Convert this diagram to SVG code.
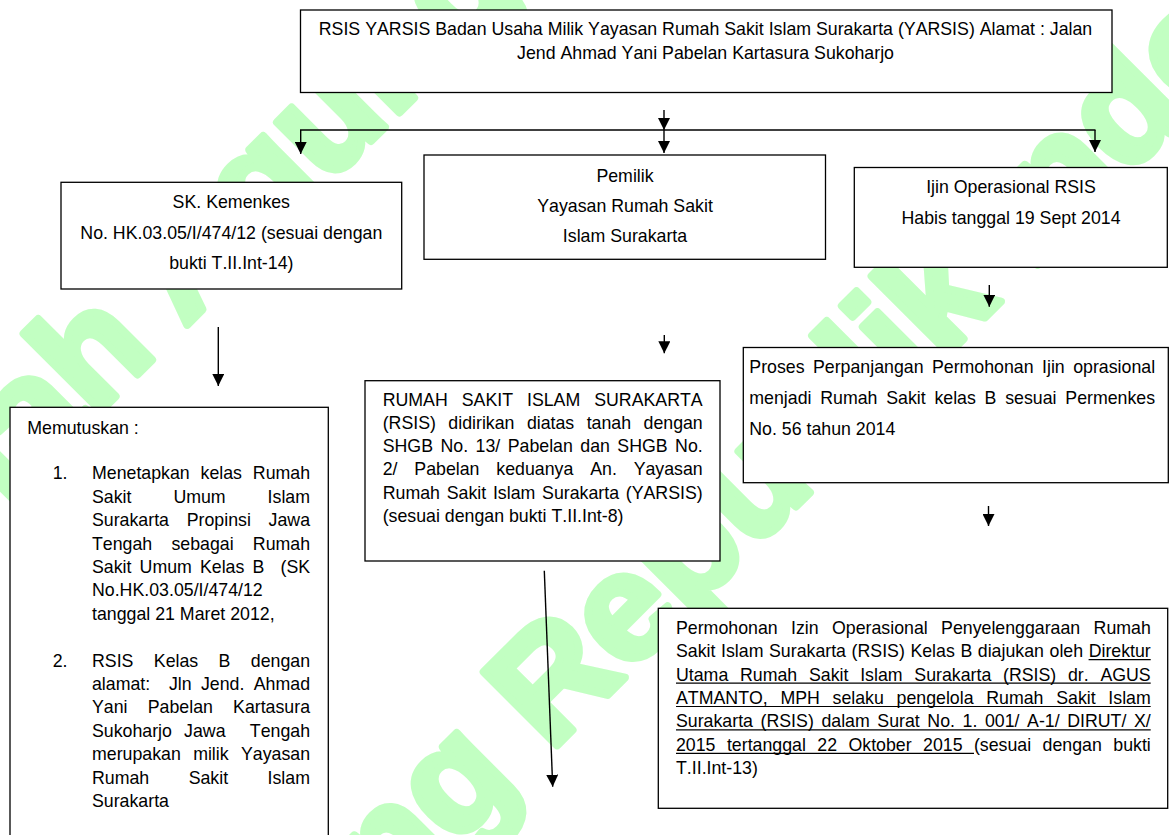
<svg xmlns="http://www.w3.org/2000/svg" width="1169" height="835" viewBox="0 0 1169 835">
<style>
.wm{font-family:"Liberation Sans",Arial,sans-serif;font-weight:bold;font-size:151px;fill:#c2ffc2;stroke:#c2ffc2;stroke-width:8;stroke-linejoin:round}
.box{fill:#fff;stroke:#000;stroke-width:1.3}
.t{font-family:"Liberation Sans",Arial,sans-serif;font-size:17.75px;fill:#000;font-kerning:none}
.c{text-anchor:middle}
.pre{white-space:pre}
.ln{stroke:#000;stroke-width:1.4;fill:none}
.ul{stroke:#000;stroke-width:1.2}
</style>
<defs>
<marker id="ah" viewBox="0 0 12 12" refX="12" refY="6" markerWidth="12" markerHeight="12" markerUnits="userSpaceOnUse" orient="auto">
<path d="M0,0 L12,6 L0,12 z" fill="#000"/>
</marker>
</defs>
<rect width="1169" height="835" fill="#fff"/>
<g id="watermark" transform="rotate(-45)">
<text class="wm" x="-918" y="362">Mahkamah Agung Republik Indonesia</text>
<text class="wm" x="-1480" y="921">Mahkamah Agung Republik Indonesia</text>
</g>
<g id="connectors">
<line class="ln" x1="664" y1="110" x2="664" y2="130" marker-end="url(#ah)"/>
<line class="ln" x1="300" y1="130" x2="1095.5" y2="130"/>
<line class="ln" x1="300.7" y1="130" x2="300.7" y2="154" marker-end="url(#ah)"/>
<line class="ln" x1="664" y1="130" x2="664" y2="153" marker-end="url(#ah)"/>
<line class="ln" x1="1095" y1="130" x2="1095" y2="152" marker-end="url(#ah)"/>
<line class="ln" x1="218.3" y1="327" x2="218.3" y2="386" marker-end="url(#ah)"/>
<line class="ln" x1="664.3" y1="335" x2="664.3" y2="353.3" marker-end="url(#ah)"/>
<line class="ln" x1="989.3" y1="285" x2="989.3" y2="306.7" marker-end="url(#ah)"/>
<line class="ln" x1="988.5" y1="506" x2="988.5" y2="526" marker-end="url(#ah)"/>
<line class="ln" x1="544.3" y1="570.7" x2="552.7" y2="786.7" marker-end="url(#ah)"/>
</g>
<g id="node-top">
<rect class="box" x="300.5" y="10" width="811.5" height="82.5"/>
<text class="t c" x="705.5" y="35">RSIS YARSIS Badan Usaha Milik Yayasan Rumah Sakit Islam Surakarta (YARSIS) Alamat : Jalan</text>
<text class="t c" x="705.5" y="59.3">Jend Ahmad Yani Pabelan Kartasura Sukoharjo</text>
</g>
<g id="node-pemilik">
<rect class="box" x="424" y="155" width="401.5" height="104.3"/>
<text class="t c" x="625" y="181.7">Pemilik</text>
<text class="t c" x="625" y="211.7">Yayasan Rumah Sakit</text>
<text class="t c" x="625" y="241.7">Islam Surakarta</text>
</g>
<g id="node-sk">
<rect class="box" x="61" y="182.3" width="340.7" height="106.7"/>
<text class="t c" x="231.3" y="208.3">SK. Kemenkes</text>
<text class="t c" x="231.3" y="238.5">No. HK.03.05/I/474/12 (sesuai dengan</text>
<text class="t c" x="231.3" y="268.7">bukti T.II.Int-14)</text>
</g>
<g id="node-ijin">
<rect class="box" x="854.3" y="167.5" width="313" height="99.8"/>
<text class="t c" x="1011" y="193.3">Ijin Operasional RSIS</text>
<text class="t c" x="1011" y="224">Habis tanggal 19 Sept 2014</text>
</g>
<g id="node-proses">
<rect class="box" x="743.3" y="347.5" width="425" height="135.2"/>
<text class="t" x="749.3" y="373.3" word-spacing="3.51">Proses Perpanjangan Permohonan Ijin oprasional</text>
<text class="t" x="749.3" y="404.3" word-spacing="3.83">menjadi Rumah Sakit kelas B sesuai Permenkes</text>
<text class="t" x="749.3" y="435">No. 56 tahun 2014</text>
</g>
<g id="node-memutuskan">
<rect class="box" x="10" y="407.3" width="318.3" height="440"/>
<text class="t" x="27.3" y="434.3">Memutuskan :</text>
<text class="t" x="52.7" y="479.3">1.</text>
<text class="t" x="92" y="479.3" word-spacing="5.91">Menetapkan kelas Rumah</text>
<text class="t" x="92" y="502.7" word-spacing="37.0">Sakit Umum Islam</text>
<text class="t" x="92" y="526.1" word-spacing="12.82">Surakarta Propinsi Jawa</text>
<text class="t" x="92" y="549.5" word-spacing="14.29">Tengah sebagai Rumah</text>
<text class="t pre" x="92" y="572.9" word-spacing="3.17">Sakit Umum Kelas B  (SK</text>
<text class="t" x="92" y="596.3">No.HK.03.05/I/474/12</text>
<text class="t" x="92" y="619.7">tanggal 21 Maret 2012,</text>
<text class="t" x="52.7" y="666.5">2.</text>
<text class="t" x="92" y="666.5" word-spacing="15.44">RSIS Kelas B dengan</text>
<text class="t pre" x="92" y="689.9" word-spacing="4.43">alamat:  Jln Jend. Ahmad</text>
<text class="t" x="92" y="713.3" word-spacing="15.27">Yani Pabelan Kartasura</text>
<text class="t pre" x="92" y="736.7" word-spacing="7.22">Sukoharjo Jawa  Tengah</text>
<text class="t" x="92" y="760.1" word-spacing="7.40">merupakan milik Yayasan</text>
<text class="t" x="92" y="783.5" word-spacing="34.5">Rumah Sakit Islam</text>
<text class="t" x="92" y="806.9">Surakarta</text>
</g>
<g id="node-rumah">
<rect class="box" x="365" y="380.7" width="355" height="180.3"/>
<text class="t" x="382.7" y="405.5" word-spacing="9.02">RUMAH SAKIT ISLAM SURAKARTA</text>
<text class="t" x="382.7" y="428.8" word-spacing="7.49">(RSIS) didirikan diatas tanah dengan</text>
<text class="t" x="382.7" y="452" word-spacing="2.53">SHGB No. 13/ Pabelan dan SHGB No.</text>
<text class="t" x="382.7" y="475.3" word-spacing="11.92">2/ Pabelan keduanya An. Yayasan</text>
<text class="t" x="382.7" y="498.5" word-spacing="1.83">Rumah Sakit Islam Surakarta (YARSIS)</text>
<text class="t" x="382.7" y="521.8">(sesuai dengan bukti T.II.Int-8)</text>
</g>
<g id="node-permohonan">
<rect class="box" x="658.3" y="608.3" width="509.4" height="200"/>
<text class="t" x="676" y="633.7" word-spacing="8.43">Permohonan Izin Operasional Penyelenggaraan Rumah</text>
<text class="t" x="676" y="657.1" word-spacing="0.65">Sakit Islam Surakarta (RSIS) Kelas B diajukan oleh Direktur</text>
<text class="t" x="676" y="680.5" word-spacing="6.8">Utama Rumah Sakit Islam Surakarta (RSIS) dr. AGUS</text>
<text class="t" x="676" y="703.9" word-spacing="7.77">ATMANTO, MPH selaku pengelola Rumah Sakit Islam</text>
<text class="t" x="676" y="727.3" word-spacing="2.66">Surakarta (RSIS) dalam Surat No. 1. 001/ A-1/ DIRUT/ X/</text>
<text class="t" x="676" y="750.7" word-spacing="6.5">2015 tertanggal 22 Oktober 2015 (sesuai dengan bukti</text>
<text class="t" x="676" y="774.1">T.II.Int-13)</text>
<line class="ul" x1="1088.6" y1="659.7" x2="1150.7" y2="659.7"/>
<line class="ul" x1="676" y1="683.1" x2="1150.7" y2="683.1"/>
<line class="ul" x1="676" y1="706.5" x2="1150.7" y2="706.5"/>
<line class="ul" x1="676" y1="729.9" x2="1150.7" y2="729.9"/>
<line class="ul" x1="676" y1="753.3" x2="974" y2="753.3"/>
</g>
</svg>
